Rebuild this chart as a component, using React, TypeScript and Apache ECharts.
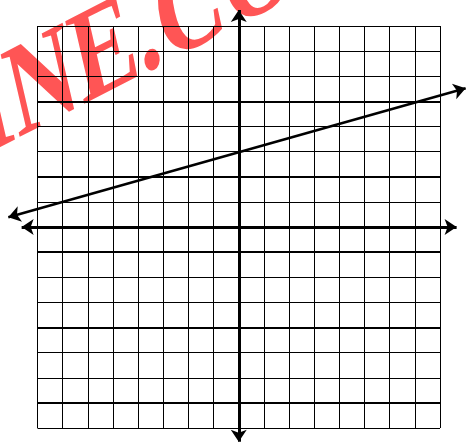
import React, { useEffect, useRef } from "react";
import * as echarts from "echarts";

// Grid range (unit squares)
const GRID_MIN = -8;
const GRID_MAX = 8;
// Heavier horizontal grid lines
const THICK_Y = [5, 2, -1, -4, -7];
// Coordinate axes (arrow tip positions, in data units)
const X_AXIS_X = [-8.63, 8.66];
const Y_AXIS_Y = [8.64, -8.55];
// Graphed line endpoints (arrow tips)
const LINE_X = [-9.16, 9.02];
const LINE_Y = [0.39, 5.52];
// Watermark
const WATERMARK = "INE.CO";

// Decompose linear map [[p,q],[r,s]] into rotate * scale * rotate (zrender convention)
function decompose(p: number, q: number, r: number, s: number) {
  const E = (p + s) / 2;
  const F = (p - s) / 2;
  const G = (r + q) / 2;
  const H = (r - q) / 2;
  const Q = Math.sqrt(E * E + H * H);
  const R = Math.sqrt(F * F + G * G);
  const a1 = Math.atan2(G, F);
  const a2 = Math.atan2(H, E);
  const theta = (a2 - a1) / 2;
  const phi = (a2 + a1) / 2;
  return { outer: -phi, sx: Q + R, sy: Q - R, inner: -theta };
}

export default function App() {
  const ref = useRef<HTMLDivElement>(null);
  useEffect(() => {
    if (!ref.current) return;
    const chart = echarts.init(ref.current, undefined, { renderer: "svg" });
    const axisCommon = {
      type: "value" as const,
      min: GRID_MIN,
      max: GRID_MAX,
      interval: 1,
      axisLine: { show: false },
      axisTick: { show: false },
      axisLabel: { show: false },
      splitLine: { show: true, lineStyle: { color: "#000", width: 1 } },
    };
    const wm = decompose(1.069, 0.346, -0.548, 1.5);
    chart.setOption({
      animation: false,
      backgroundColor: "#fff",
      grid: { left: 37.5, top: 26, width: 402.5, height: 402, show: false },
      xAxis: axisCommon,
      yAxis: axisCommon,
      graphic: {
        elements: [
          {
            type: "group",
            x: -26.7,
            y: 113.3,
            rotation: wm.outer,
            z: -100,
            silent: true,
            children: [
              {
                type: "group",
                scaleX: wm.sx,
                scaleY: wm.sy,
                children: [
                  {
                    type: "text",
                    rotation: wm.inner,
                    z: -100,
                    silent: true,
                    style: {
                      text: WATERMARK,
                      font: "bold 84px 'Liberation Serif'",
                      fill: "#ff5555",
                      textAlign: "left",
                      textVerticalAlign: "middle",
                    },
                  },
                ],
              },
            ],
          },
        ],
      },
      series: [
        {
          type: "lines",
          coordinateSystem: "cartesian2d",
          clip: false,
          silent: true,
          symbol: ["none", "none"],
          lineStyle: { color: "#000", width: 2, opacity: 1 },
          data: THICK_Y.map((y) => ({ coords: [[GRID_MIN, y], [GRID_MAX, y]] })),
          z: 3,
        },
        {
          type: "lines",
          coordinateSystem: "cartesian2d",
          clip: false,
          silent: true,
          symbol: ["arrow", "arrow"],
          symbolSize: 12,
          lineStyle: { color: "#000", width: 3, opacity: 1 },
          data: [
            { coords: [[X_AXIS_X[0], 0], [X_AXIS_X[1], 0]] },
            { coords: [[0, Y_AXIS_Y[0]], [0, Y_AXIS_Y[1]]] },
          ],
          z: 4,
        },
        {
          type: "lines",
          coordinateSystem: "cartesian2d",
          clip: false,
          silent: true,
          symbol: ["arrow", "arrow"],
          symbolSize: 12,
          lineStyle: { color: "#000", width: 2.5, opacity: 1 },
          data: [{ coords: [[LINE_X[0], LINE_Y[0]], [LINE_X[1], LINE_Y[1]]] }],
          z: 5,
        },
      ],
    });
    return () => chart.dispose();
  }, []);
  return (
    <div
      ref={ref}
      style={{ position: "fixed", left: 0, top: 0, width: 474, height: 444 }}
    />
  );
}
